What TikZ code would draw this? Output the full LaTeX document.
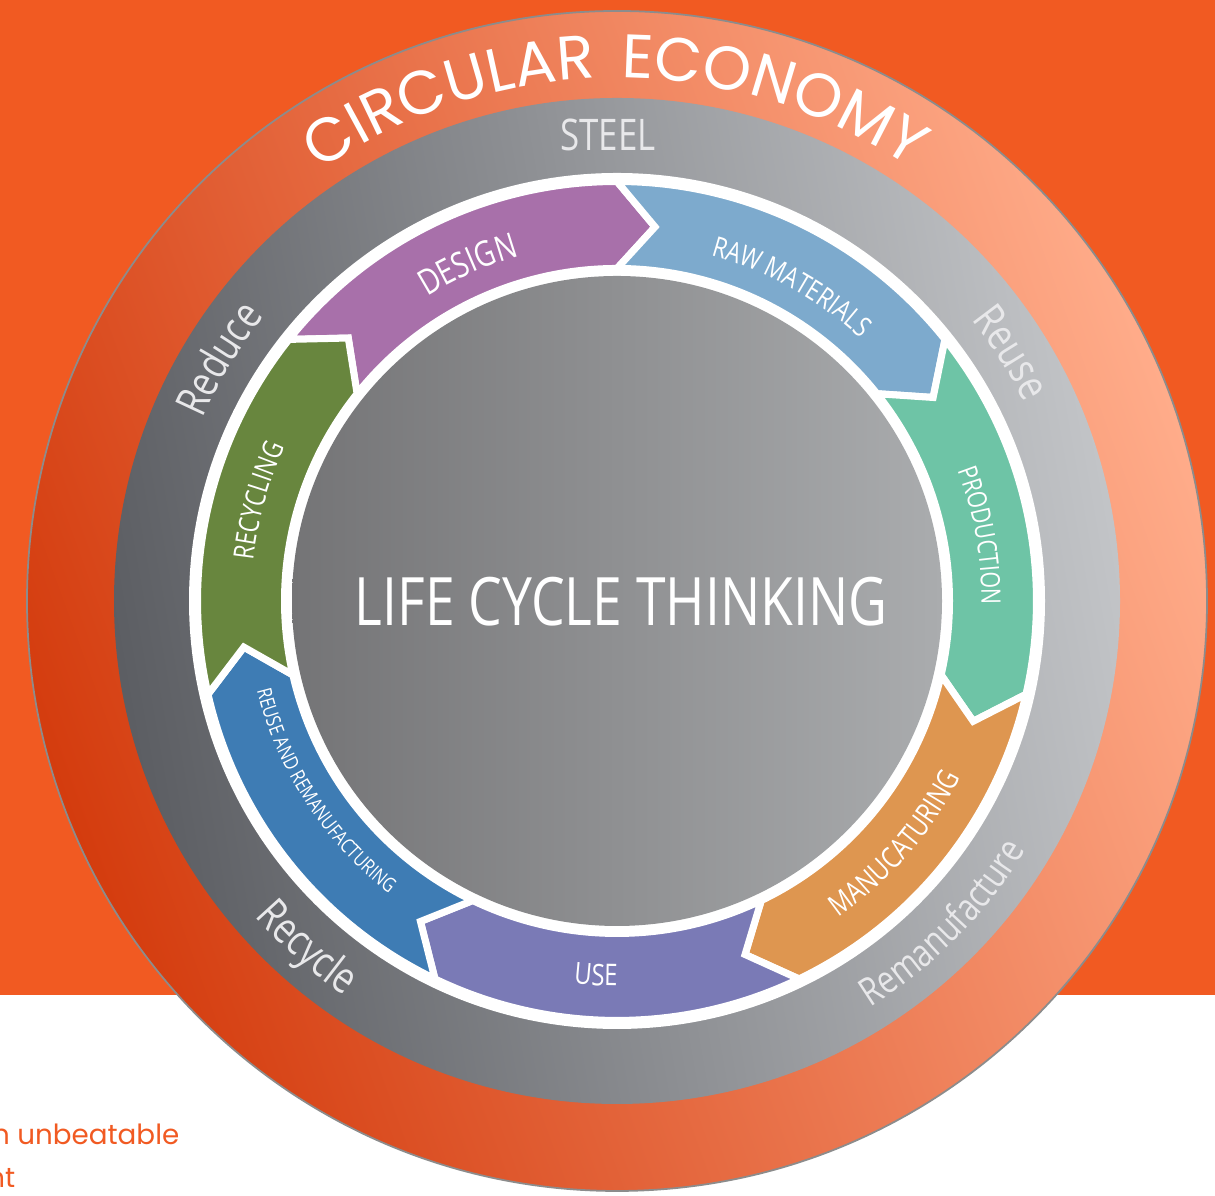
\documentclass[tikz,border=0pt]{standalone}
\usepackage{fontspec}
\newfontfamily\labelfont[FakeStretch=0.8]{Open Sans}
\newfontfamily\titlefont{Poppins}
\usetikzlibrary{decorations.text}

\definecolor{bgorange}{RGB}{241,90,34}
\definecolor{ringdark}{RGB}{212,60,14}
\definecolor{ringlight}{RGB}{255,172,138}
\definecolor{bandleft}{RGB}{92,94,99}
\definecolor{bandright}{RGB}{194,196,199}
\definecolor{coreleft}{RGB}{116,116,118}
\definecolor{coreright}{RGB}{170,172,174}
\definecolor{labelgray}{RGB}{232,232,234}
\definecolor{design}{RGB}{168,112,170}
\definecolor{raw}{RGB}{125,170,205}
\definecolor{production}{RGB}{110,196,166}
\definecolor{making}{RGB}{222,150,80}
\definecolor{use}{RGB}{122,122,182}
\definecolor{reuse}{RGB}{62,124,180}
\definecolor{recycling}{RGB}{104,134,62}

\tikzset{
  arrowseg/.style = {fill = #1, draw = white, line width = 2pt},
  ringtext/.style = {decorate, decoration = {text along path, text align = center, text = {#1}}},
}
\newcommand{\arrowfont}[1]{\labelfont\fontsize{#1}{#1}\selectfont\color{white}}
\newcommand{\bandfont}[1]{\labelfont\fontsize{#1}{#1}\selectfont\color{labelgray}}
\newcommand{\rimfont}{\titlefont\fontsize{17.5}{17.5}\selectfont\color{white}}

\begin{document}
\begin{tikzpicture}
  \clip (0,0) rectangle (12.15,11.96);
  % page
  \fill[white] (0,0) rectangle (12.15,11.96);
  \fill[bgorange] (0,2.01) rectangle (12.15,11.96);
  \node[anchor=base east, inner sep=0pt, font=\titlefont\fontsize{7.9}{9}\selectfont, text=bgorange] (tagline) at (1.80,0.51) {n unbeatable};
  \node[anchor=base east, inner sep=0pt, font=\titlefont\fontsize{7.9}{9}\selectfont, text=bgorange] (tagend) at (0.16,0.08) {nt};

  % rings
  \coordinate (hub) at (6.17,5.95);
  \shadedraw[bottom color=ringdark, top color=ringlight, shading angle=-70, draw=black!45, line width=0.5pt] (hub) circle (5.90);
  \shade[bottom color=bandleft, top color=bandright, shading angle=-80] (hub) circle (5.03);
  \fill[white] (hub) circle (4.28);

  \begin{scope}[shift={(hub)}]
    % arrows, clockwise from the top left
    \foreach \col [count=\i from 0] in {design, raw, production, making, use, reuse, recycling} {
      \pgfmathsetmacro\a{141.43-51.43*\i}
      \pgfmathsetmacro\b{\a-51.43}
      \filldraw[arrowseg=\col] (\a:4.195) arc[start angle=\a, end angle=\b, radius=4.195]
        -- ({\b-5.8}:3.76) -- (\b:3.325) arc[start angle=\b, end angle=\a, radius=3.325]
        -- ({\a-5.8}:3.76) -- cycle;
    }
    \shade[left color=coreleft, right color=coreright] (0,0) circle (3.25);

    % nodes
    \node[font=\labelfont\fontsize{19}{19}\selectfont, text=white] (lct) at (0.04,-0.01) {LIFE CYCLE THINKING};
    \node[font=\bandfont{12.4}] (steel) at (-0.09,4.66) {STEEL};

    % rim title
    \path[ringtext={|\rimfont|CIRCULAR}] (153.5:5.23) arc[start angle=153.5, end angle=63.5, radius=5.23];
    \path[ringtext={|\rimfont|ECONOMY}] (117.7:5.23) arc[start angle=117.7, end angle=27.7, radius=5.23];

    % arrow labels
    \path[ringtext={|\arrowfont{10}|DESIGN}] (158.9:3.585) arc[start angle=158.9, end angle=68.9, radius=3.585];
    \path[ringtext={|\arrowfont{8}|RAW MATERIALS}] (106:3.58) arc[start angle=106, end angle=16, radius=3.58];
    \path[ringtext={|\arrowfont{7.6}|PRODUCTION}] (55.2:3.645) arc[start angle=55.2, end angle=-34.8, radius=3.645];
    \path[ringtext={|\arrowfont{8.4}|MANUCATURING}] (-86.1:3.865) arc[start angle=-86.1, end angle=3.9, radius=3.865];
    \path[ringtext={|\arrowfont{8.5}|USE}] (-138.2:3.85) arc[start angle=-138.2, end angle=-48.2, radius=3.85];
    \path[ringtext={|\arrowfont{5.75}|REUSE AND REMANUFACTURING}] (168:3.71) arc[start angle=168, end angle=258, radius=3.71];
    \path[ringtext={|\arrowfont{8}|RECYCLING}] (209.4:3.66) arc[start angle=209.4, end angle=119.4, radius=3.66];

    % band labels
    \path[ringtext={|\bandfont{12.4}|Reduce}] (193.7:4.53) arc[start angle=193.7, end angle=103.7, radius=4.53];
    \path[ringtext={|\bandfont{12.4}|Reuse}] (77.2:4.53) arc[start angle=77.2, end angle=-12.8, radius=4.53];
    \path[ringtext={|\bandfont{11}|Remanufacture}] (-89.7:4.79) arc[start angle=-89.7, end angle=0.3, radius=4.79];
    \path[ringtext={|\bandfont{12.4}|Recycle}] (-176.8:4.80) arc[start angle=-176.8, end angle=-86.8, radius=4.80];
  \end{scope}
\end{tikzpicture}
\end{document}
